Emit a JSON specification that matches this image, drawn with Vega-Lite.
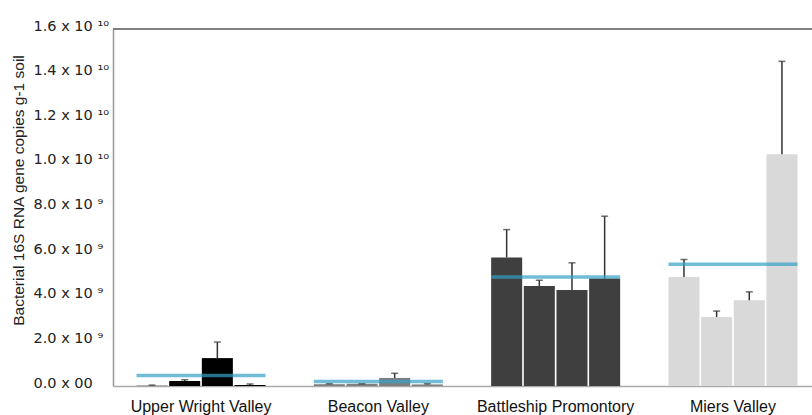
{
  "$schema": "https://vega.github.io/schema/vega-lite/v6.json",
  "width": 699,
  "height": 357,
  "autosize": {"type": "none"},
  "padding": {"left": 113, "top": 29, "right": 0, "bottom": 29},
  "config": {"font": "Liberation Sans", "view": {"stroke": null}},
  "datasets": {
    "bars": [
      {"site": "Upper Wright Valley", "sample": 1, "value": 10000000, "upper": 40000000},
      {"site": "Upper Wright Valley", "sample": 2, "value": 220000000, "upper": 280000000},
      {"site": "Upper Wright Valley", "sample": 3, "value": 1250000000, "upper": 1970000000},
      {"site": "Upper Wright Valley", "sample": 4, "value": 40000000, "upper": 90000000},
      {"site": "Beacon Valley", "sample": 1, "value": 80000000, "upper": 100000000},
      {"site": "Beacon Valley", "sample": 2, "value": 100000000, "upper": 100000000},
      {"site": "Beacon Valley", "sample": 3, "value": 360000000, "upper": 570000000},
      {"site": "Beacon Valley", "sample": 4, "value": 70000000, "upper": 100000000},
      {"site": "Battleship Promontory", "sample": 1, "value": 5760000000, "upper": 7010000000},
      {"site": "Battleship Promontory", "sample": 2, "value": 4480000000, "upper": 4740000000},
      {"site": "Battleship Promontory", "sample": 3, "value": 4300000000, "upper": 5520000000},
      {"site": "Battleship Promontory", "sample": 4, "value": 4820000000, "upper": 7610000000},
      {"site": "Miers Valley", "sample": 1, "value": 4880000000, "upper": 5670000000},
      {"site": "Miers Valley", "sample": 2, "value": 3090000000, "upper": 3360000000},
      {"site": "Miers Valley", "sample": 3, "value": 3840000000, "upper": 4220000000},
      {"site": "Miers Valley", "sample": 4, "value": 10390000000, "upper": 14550000000}
    ],
    "means": [
      {"site": "Upper Wright Valley", "mean": 470000000},
      {"site": "Beacon Valley", "mean": 200000000},
      {"site": "Battleship Promontory", "mean": 4880000000},
      {"site": "Miers Valley", "mean": 5460000000}
    ]
  },
  "layer": [
    {
      "data": {"name": "bars"},
      "mark": {"type": "bar"},
      "encoding": {
        "x": {
          "field": "site", "type": "nominal",
          "sort": ["Upper Wright Valley", "Beacon Valley", "Battleship Promontory", "Miers Valley"],
          "scale": {"type": "band", "paddingInner": 0.2724, "paddingOuter": 0.1073, "align": 0.618},
          "axis": {"title": null, "labelAngle": 0, "ticks": false, "tickSize": 0, "domainColor": "#aaa", "domainWidth": 1.5, "labelFontSize": 16, "labelColor": "#111", "labelPadding": 12}
        },
        "xOffset": {"field": "sample", "type": "nominal", "scale": {"paddingInner": 0.05, "paddingOuter": 0}},
        "y": {
          "field": "value", "type": "quantitative",
          "scale": {"domain": [0, 16000000000], "nice": false},
          "axis": {
            "values": [0, 2000000000, 4000000000, 6000000000, 8000000000, 10000000000, 12000000000, 14000000000, 16000000000],
            "labelExpr": "datum.value == 0 ? '0.0 x 00' : (datum.value >= 1e10 ? format(datum.value/1e10, '.1f') + ' x 10 ¹⁰' : format(datum.value/1e9, '.1f') + ' x 10 ⁹')",
            "labelFont": "DejaVu Sans",
            "labelAlign": "left", "labelBaseline": "middle", "labelPadding": 80, "labelOffset": -3,
            "ticks": false, "tickSize": 0, "grid": false,
            "domainColor": "#999", "domainWidth": 1.5,
            "labelFontSize": 14.5, "labelColor": "#222",
            "title": "Bacterial 16S RNA gene copies g-1 soil",
            "titleFontSize": 15.5, "titleFontWeight": "normal", "titleColor": "#222",
            "titleX": -95, "titleY": 161, "titleAngle": -90, "titleAlign": "center", "titleBaseline": "middle"
          }
        },
        "color": {
          "field": "site", "type": "nominal",
          "scale": {"domain": ["Upper Wright Valley", "Beacon Valley", "Battleship Promontory", "Miers Valley"], "range": ["#000000", "#7f7f7f", "#3f3f3f", "#d9d9d9"]},
          "legend": null
        }
      }
    },
    {
      "data": {"name": "bars"},
      "mark": {"type": "rule", "color": "#333", "strokeWidth": 1.5},
      "encoding": {
        "x": {"field": "site", "type": "nominal", "sort": ["Upper Wright Valley", "Beacon Valley", "Battleship Promontory", "Miers Valley"]},
        "xOffset": {"field": "sample", "type": "nominal"},
        "y": {"field": "value", "type": "quantitative"},
        "y2": {"field": "upper"}
      }
    },
    {
      "data": {"name": "bars"},
      "mark": {"type": "tick", "color": "#333", "size": 7, "thickness": 1.5},
      "encoding": {
        "x": {"field": "site", "type": "nominal", "sort": ["Upper Wright Valley", "Beacon Valley", "Battleship Promontory", "Miers Valley"]},
        "xOffset": {"field": "sample", "type": "nominal"},
        "y": {"field": "upper", "type": "quantitative"}
      }
    },
    {
      "data": {"name": "means"},
      "mark": {"type": "tick", "color": "#35a0c5", "size": 129, "thickness": 3.5},
      "encoding": {
        "x": {"field": "site", "type": "nominal", "sort": ["Upper Wright Valley", "Beacon Valley", "Battleship Promontory", "Miers Valley"]},
        "y": {"field": "mean", "type": "quantitative"}
      }
    },
    {
      "data": {"values": [{}]},
      "mark": {"type": "rule", "color": "#555", "strokeWidth": 1.5},
      "encoding": {
        "y": {"datum": 16000000000, "type": "quantitative"}
      }
    }
  ]
}
